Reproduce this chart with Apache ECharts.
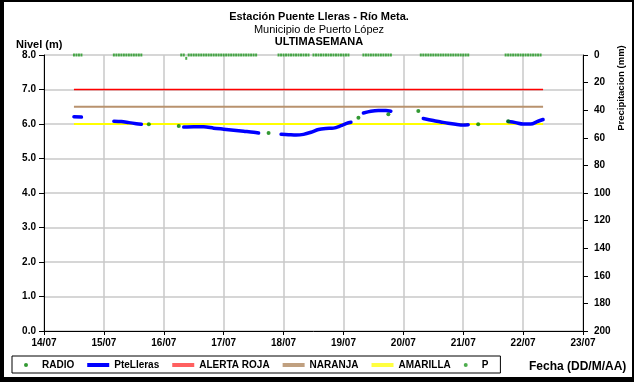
<!DOCTYPE html>
<html>
<head>
<meta charset="utf-8">
<script src="https://cdn.jsdelivr.net/npm/echarts@6/dist/echarts.min.js"></script>
<style>
  html, body { margin: 0; padding: 0; background: #fff; }
  #chart { width: 634px; height: 382px; }
</style>
</head>
<body>
<div id="chart"></div>
<script>
// horas desde 14/07 00:00
const dayLabels = ['14/07', '15/07', '16/07', '17/07', '18/07', '19/07', '20/07', '21/07', '22/07', '23/07']

// nivel PteLleras por tramos (hora, nivel m)
const lleras1 = [[12, 6.21], [15, 6.20]]
const lleras2 = [[28, 6.08], [31, 6.07], [34, 6.04], [37, 6.01], [39, 5.99]]
const lleras3 = [[56, 5.91], [60, 5.92], [64, 5.92], [68, 5.88], [72, 5.85], [76, 5.82], [80, 5.79], [84, 5.76], [86, 5.74]]
const lleras4 = [[95, 5.70], [98, 5.69], [101, 5.68], [104, 5.70], [107, 5.76], [110, 5.84], [113, 5.87], [116, 5.88], [119, 5.95], [121, 6.01], [123, 6.05]]
const lleras5 = [[128, 6.32], [131, 6.37], [134, 6.39], [137, 6.39], [139, 6.37]]
const lleras6 = [[152, 6.16], [156, 6.10], [159, 6.06], [162, 6.02], [165, 5.99], [168, 5.97], [170, 5.98]]
const lleras7 = [[186, 6.07], [189, 6.04], [192, 6.00], [195, 6.00], [198, 6.08], [200, 6.13]]

// lecturas radio (hora, nivel m)
const radio = [[42, 5.99], [54, 5.94], [90, 5.74], [126, 6.18], [138, 6.28], [150, 6.38], [174, 5.99], [186, 6.08]]

// precipitacion (mm), horas con lectura
const pHours = [
  12, 13, 14, 15,
  28, 29, 30, 31, 32, 33, 34, 35, 36, 37, 38, 39,
  55, 56, 58, 59, 60, 61, 62, 63, 64, 65, 66, 67, 68, 69, 70, 71, 72, 73, 74, 75, 76, 77, 78, 79, 80, 81, 82, 83, 84, 85,
  94, 95, 96, 97, 98, 99, 100, 101, 102, 103, 104, 105, 106,
  108, 109, 110, 111, 112, 113, 114, 115, 116, 117, 118, 119, 120, 121, 122,
  128, 129, 130, 131, 132, 133, 134, 135, 136, 137, 138, 139,
  151, 152, 153, 154, 155, 156, 157, 158, 159, 160, 161, 162, 163, 164, 165, 166, 167, 168, 169, 170,
  185, 186, 187, 188, 189, 190, 191, 192, 193, 194, 195, 196, 197, 198, 199
]
const pRain = [[57, 2.4]]

// niveles de alerta (m)
const alertaRoja = 7.0
const naranja = 6.5
const amarilla = 6.0
const alertStart = 12
const alertEnd = 200

const font = "'Liberation Sans', Arial, sans-serif"

const joinSegments = (segs) => {
  const out = []
  segs.forEach((s, i) => {
    if (i > 0) out.push([s[0][0] - 0.5, null])
    s.forEach(p => out.push(p))
  })
  return out
}

const chart = echarts.init(document.getElementById('chart'))

const txt = (extra) => Object.assign({ color: '#000', fontFamily: font, fontWeight: 'bold', fontSize: 10 }, extra)

const option = {
  backgroundColor: '#fff',
  animation: false,
  textStyle: { fontFamily: font },
  title: [
    { text: 'Estación Puente Lleras - Río Meta.', left: 314, top: 6, textAlign: 'center', textStyle: txt({ fontSize: 11 }) },
    { text: 'Municipio de Puerto López', left: 314, top: 19, textAlign: 'center', textStyle: txt({ fontSize: 11, fontWeight: 'normal' }) },
    { text: 'ULTIMASEMANA', left: 314, top: 31, textAlign: 'center', textStyle: txt({ fontSize: 11 }) },
    { text: 'Nivel (m)', left: 11, top: 34, textStyle: txt({ fontSize: 11 }) },
    { text: 'Fecha (DD/M/AA)', left: 524, top: 356, textStyle: txt({ fontSize: 12 }) }
  ],
  graphic: [
    { type: 'rect', shape: { x: 1, y: 1, width: 632, height: 378 }, style: { fill: null, stroke: '#000', lineWidth: 2 }, silent: true },
    { type: 'rect', shape: { x: 0, y: 377, width: 634, height: 5 }, style: { fill: '#000' }, silent: true },
    { type: 'rect', shape: { x: 0, y: 0, width: 4, height: 382 }, style: { fill: '#000' }, silent: true },
    {
      type: 'text', x: 621, y: 88, rotation: Math.PI / 2,
      style: { text: 'Precipitacion (mm)', font: 'bold 9.5px ' + font, fill: '#000', align: 'center', verticalAlign: 'middle' }
    }
  ],
  legend: {
    left: 12,
    top: 356,
    padding: [4, 12, 3, 12],
    borderColor: '#000',
    borderWidth: 1,
    itemWidth: 22,
    itemHeight: 4,
    itemGap: 13,
    textStyle: txt({ fontSize: 10 }),
    data: [
      { name: 'RADIO', icon: 'circle' },
      { name: 'PteLleras', icon: 'rect' },
      { name: 'ALERTA ROJA', icon: 'rect' },
      { name: 'NARANJA', icon: 'rect' },
      { name: 'AMARILLA', icon: 'rect' },
      { name: 'P', icon: 'circle' }
    ]
  },
  grid: { left: 44, right: 51, top: 55, bottom: 51 },
  xAxis: {
    type: 'value',
    min: 0,
    max: 216,
    interval: 24,
    axisLine: { lineStyle: { color: '#000', width: 1 } },
    axisTick: { length: 4, lineStyle: { color: '#000' } },
    axisLabel: { margin: 7, formatter: (v) => dayLabels[Math.round(v / 24)], ...txt({ fontSize: 10 }) },
    splitLine: { show: true, lineStyle: { color: '#c8c8c8', width: 1.5 } }
  },
  yAxis: [
    {
      type: 'value',
      min: 0,
      max: 8,
      interval: 1,
      axisLine: { show: true, lineStyle: { color: '#000', width: 1 } },
      axisTick: { show: true, length: 5, lineStyle: { color: '#000' } },
      axisLabel: { margin: 8, formatter: (v) => v.toFixed(1), ...txt({ fontSize: 10 }) },
      splitLine: { show: true, lineStyle: { color: '#c8c8c8', width: 1.5 } }
    },
    {
      type: 'value',
      min: 0,
      max: 200,
      interval: 20,
      inverse: true,
      axisLine: { show: true, lineStyle: { color: '#000', width: 1 } },
      axisTick: { show: true, length: 5, lineStyle: { color: '#000' } },
      axisLabel: { margin: 11, ...txt({ fontSize: 10 }) },
      splitLine: { show: false }
    }
  ],
  series: [
    {
      name: 'RADIO',
      type: 'scatter',
      data: radio,
      symbol: 'circle',
      symbolSize: 4,
      itemStyle: { color: '#008000' },
      z: 4
    },
    {
      name: 'PteLleras',
      type: 'line',
      data: joinSegments([lleras1, lleras2, lleras3, lleras4, lleras5, lleras6, lleras7]),
      showSymbol: false,
      connectNulls: false,
      smooth: 0.3,
      lineStyle: { color: '#0000ff', width: 3.5, cap: 'round', join: 'round' },
      itemStyle: { color: '#0000ff' },
      z: 3
    },
    {
      name: 'ALERTA ROJA',
      type: 'line',
      data: [[alertStart, alertaRoja], [alertEnd, alertaRoja]],
      showSymbol: false,
      lineStyle: { color: '#ff0000', width: 1.5 },
      itemStyle: { color: '#ff6060' },
      z: 2
    },
    {
      name: 'NARANJA',
      type: 'line',
      data: [[alertStart, naranja], [alertEnd, naranja]],
      showSymbol: false,
      lineStyle: { color: '#b8926e', width: 2 },
      itemStyle: { color: '#c0a080' },
      z: 2
    },
    {
      name: 'AMARILLA',
      type: 'line',
      data: [[alertStart, amarilla], [alertEnd, amarilla]],
      showSymbol: false,
      lineStyle: { color: '#ffff00', width: 2 },
      itemStyle: { color: '#ffff40' },
      z: 2
    },
    {
      name: 'P',
      type: 'scatter',
      yAxisIndex: 1,
      data: pHours.map(h => [h, 0]).concat(pRain),
      symbol: 'rect',
      symbolSize: [2, 3],
      itemStyle: { color: '#229922' },
      z: 4
    }
  ]
}

chart.setOption(option)
</script>
</body>
</html>
